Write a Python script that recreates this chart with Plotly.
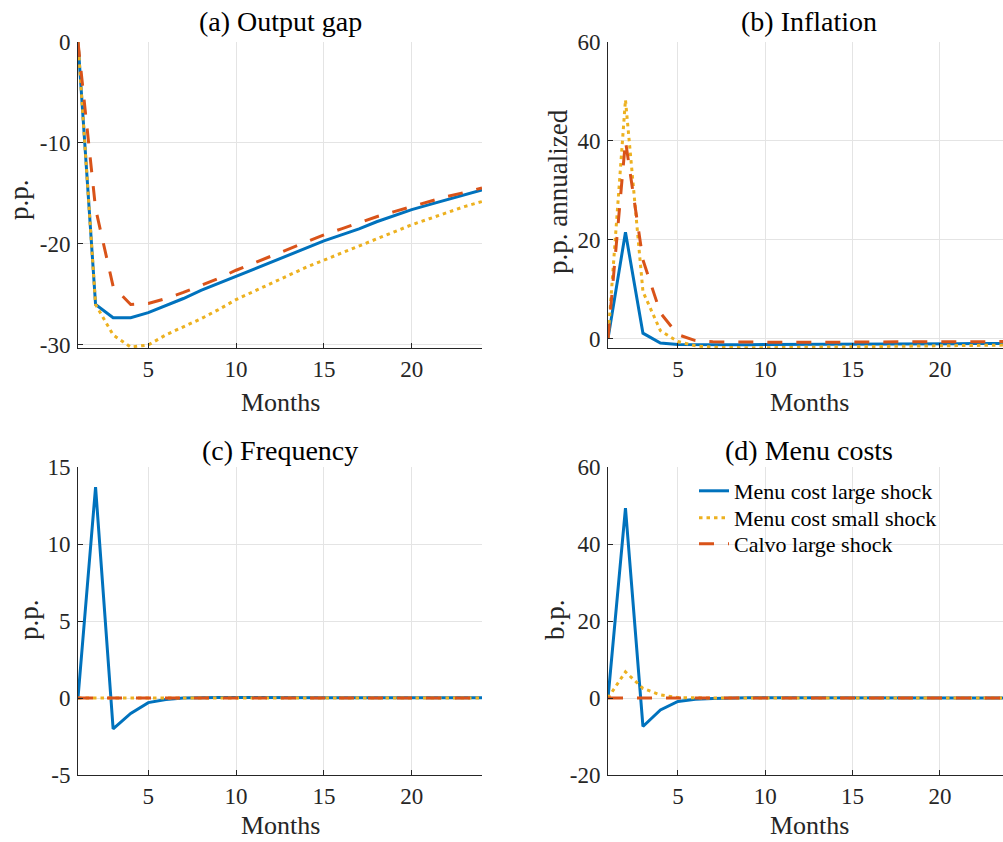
import plotly.graph_objects as go

# ---------------- data ----------------
months = list(range(1, 25))

series_names = ["Menu cost large shock", "Menu cost small shock", "Calvo large shock"]

output_gap_mc_large = [0, -26.0, -27.3, -27.3, -26.8, -26.1, -25.4, -24.6, -23.9, -23.2, -22.5, -21.8,
                       -21.1, -20.4, -19.7, -19.1, -18.5, -17.8, -17.2, -16.6, -16.1, -15.6, -15.1, -14.65]
output_gap_mc_small = [0, -26.0, -29.0, -30.2, -30.0, -29.0, -28.2, -27.4, -26.5, -25.5, -24.7, -23.9,
                       -23.1, -22.3, -21.6, -20.9, -20.2, -19.5, -18.8, -18.1, -17.5, -16.9, -16.3, -15.8]
output_gap_calvo = [0, -16.5, -24.2, -26.0, -25.9, -25.4, -24.8, -24.1, -23.4, -22.6, -21.9, -21.2,
                    -20.5, -19.8, -19.1, -18.5, -17.9, -17.3, -16.8, -16.3, -15.8, -15.3, -14.9, -14.45]

inflation_mc_large = [0, 21.5, 1.1, -0.9, -1.2, -1.25, -1.25, -1.25, -1.25, -1.2, -1.2, -1.2,
                      -1.2, -1.15, -1.15, -1.15, -1.1, -1.1, -1.1, -1.05, -1.05, -1.0, -1.0, -1.0]
inflation_mc_small = [0, 48.3, 9.5, 1.6, -0.6, -1.45, -1.75, -1.85, -1.85, -1.85, -1.8, -1.8,
                      -1.75, -1.7, -1.7, -1.65, -1.6, -1.55, -1.5, -1.5, -1.45, -1.4, -1.35, -1.3]
inflation_calvo = [0, 40.0, 15.9, 5.2, 0.8, -0.4, -0.65, -0.7, -0.75, -0.75, -0.75, -0.75,
                   -0.75, -0.7, -0.7, -0.7, -0.7, -0.65, -0.65, -0.65, -0.6, -0.6, -0.6, -0.6]

frequency_mc_large = [0, 13.7, -2.0, -1.0, -0.3, -0.1, 0.0, 0.03, 0.03, 0.03, 0.02, 0.02,
                      0.02, 0.02, 0.02, 0.02, 0.02, 0.02, 0.02, 0.02, 0.02, 0.02, 0.02, 0.02]
frequency_mc_small = [0, 0, 0, 0, 0, 0, 0, 0, 0, 0, 0, 0,
                      0, 0, 0, 0, 0, 0, 0, 0, 0, 0, 0, 0]
frequency_calvo = [0, 0, 0, 0, 0, 0, 0, 0, 0, 0, 0, 0,
                   0, 0, 0, 0, 0, 0, 0, 0, 0, 0, 0, 0]

menu_costs_mc_large = [0, 49.3, -7.4, -3.1, -0.9, -0.3, -0.1, 0.05, 0.05, 0.05, 0.03, 0.03,
                       0.02, 0.02, 0.02, 0.02, 0.02, 0.02, 0.02, 0.02, 0.02, 0.02, 0.02, 0.02]
menu_costs_mc_small = [0, 6.8, 2.5, 0.8, 0.1, 0.0, 0.0, 0.0, 0.0, 0.0, 0.0, 0.0,
                       0, 0, 0, 0, 0, 0, 0, 0, 0, 0, 0, 0]
menu_costs_calvo = [0, 0, 0, 0, 0, 0, 0, 0, 0, 0, 0, 0,
                    0, 0, 0, 0, 0, 0, 0, 0, 0, 0, 0, 0]

panel_titles = ["(a) Output gap", "(b) Inflation", "(c) Frequency", "(d) Menu costs"]
y_titles = ["p.p.", "p.p. annualized", "p.p.", "b.p."]
x_title = "Months"

x_ticks = [5, 10, 15, 20]
y_ticks = [[0, -10, -20, -30], [0, 20, 40, 60], [-5, 0, 5, 10, 15], [-20, 0, 20, 40, 60]]

# ---------------- styling ----------------
W, H = 1003, 842
FONT = "Liberation Serif"
INK = "#262626"
GRID = "#e4e4e4"
colors = ["#0072BD", "#EDB120", "#D95319"]
dashes = ["solid", "3.5px,4px", "15px,14px"]
LW = 3

def fx(p):
    return p / W

def fy(p):
    return 1 - p / H

# pixel boxes of each panel (left, right, top, bottom)
boxes = [(78, 482, 42, 348), (608, 1003, 42, 348), (78, 482, 467, 775), (608, 1003, 467, 775)]
x_ranges = [[1, 24], [1, 23.61], [1, 24], [1, 23.61]]
y_ranges = [[-30.3, 0], [-1.9, 60], [-5, 15], [-20, 60]]

panels = [
    (output_gap_mc_large, output_gap_mc_small, output_gap_calvo),
    (inflation_mc_large, inflation_mc_small, inflation_calvo),
    (frequency_mc_large, frequency_mc_small, frequency_calvo),
    (menu_costs_mc_large, menu_costs_mc_small, menu_costs_calvo),
]

legend_names = ["legend", "legend2", "legend3"]
legend_tops = [470, 497, 523]

fig = go.Figure()
layout = dict(
    width=W, height=H,
    margin=dict(l=0, r=0, t=0, b=0, autoexpand=False),
    paper_bgcolor="white", plot_bgcolor="white",
    font=dict(family=FONT, color=INK, size=23),
    showlegend=True,
)
for lg, top in zip(legend_names, legend_tops):
    layout[lg] = dict(
        x=fx(694), y=fy(top), xanchor="left", yanchor="top",
        bgcolor="rgba(0,0,0,0)", borderwidth=0,
        font=dict(family=FONT, size=22, color="black"),
        itemwidth=30,
    )

annotations = []
for i, (series, box) in enumerate(zip(panels, boxes)):
    n = i + 1
    xa = "x" if n == 1 else f"x{n}"
    ya = "y" if n == 1 else f"y{n}"
    for k in range(3):
        fig.add_trace(go.Scatter(
            x=months, y=series[k], mode="lines", name=series_names[k],
            line=dict(color=colors[k], width=LW, dash=dashes[k]),
            xaxis=xa, yaxis=ya, legendgroup=series_names[k],
            legend=legend_names[k], showlegend=(n == 4),
        ))
    l, r, t, b = box
    xkey = "xaxis" if n == 1 else f"xaxis{n}"
    ykey = "yaxis" if n == 1 else f"yaxis{n}"
    layout[xkey] = dict(
        domain=[fx(l), min(fx(r), 1.0)], anchor=ya, range=x_ranges[i],
        tickmode="array", tickvals=x_ticks, ticktext=[str(v) for v in x_ticks],
        showgrid=True, gridcolor=GRID, gridwidth=1,
        showline=True, linecolor=INK, linewidth=1, mirror=False,
        ticks="inside", ticklen=5, tickcolor=INK, tickwidth=1,
        tickfont=dict(family=FONT, size=23, color=INK),
        ticklabelstandoff=0, zeroline=False, fixedrange=True, automargin=False,
    )
    layout[ykey] = dict(
        domain=[fy(b), fy(t)], anchor=xa, range=y_ranges[i],
        tickmode="array", tickvals=y_ticks[i],
        ticktext=[str(v) for v in y_ticks[i]],
        showgrid=True, gridcolor=GRID, gridwidth=1,
        showline=True, linecolor=INK, linewidth=1, mirror=False,
        ticks="inside", ticklen=5, tickcolor=INK, tickwidth=1,
        tickfont=dict(family=FONT, size=23, color=INK),
        ticklabelstandoff=2, zeroline=False, fixedrange=True, automargin=False,
    )

# titles, x labels, y labels
title_pos = [(280, 22), (809, 22), (280, 450), (809, 450)]
xlabel_pos = [(280, 403), (809, 403), (280, None), (809, None)]
ylabel_pos = [(19, 200), (558, 192), (29, 620), (555, 620)]
for i in range(4):
    tx, ty = title_pos[i]
    annotations.append(dict(text=panel_titles[i], x=fx(tx), y=fy(ty), xref="paper", yref="paper",
                            xanchor="center", yanchor="middle", showarrow=False,
                            font=dict(family=FONT, size=28, color="black")))
    lx, ly = xlabel_pos[i]
    if ly is None:
        annotations.append(dict(text=x_title, x=fx(lx), y=0.0, xref="paper", yref="paper",
                                xanchor="center", yanchor="bottom", showarrow=False,
                                font=dict(family=FONT, size=26, color=INK)))
    else:
        annotations.append(dict(text=x_title, x=fx(lx), y=fy(ly), xref="paper", yref="paper",
                                xanchor="center", yanchor="middle", showarrow=False,
                                font=dict(family=FONT, size=26, color=INK)))
    yx, yy = ylabel_pos[i]
    annotations.append(dict(text=y_titles[i], x=fx(yx), y=fy(yy), xref="paper", yref="paper",
                            xanchor="center", yanchor="middle", showarrow=False, textangle=-90,
                            font=dict(family=FONT, size=27, color=INK)))

layout["annotations"] = annotations
fig.update_layout(**layout)
fig.write_html("out.html", config={"displayModeBar": False},
               post_script="document.body.style.margin='0px';document.body.style.overflow='hidden';")
